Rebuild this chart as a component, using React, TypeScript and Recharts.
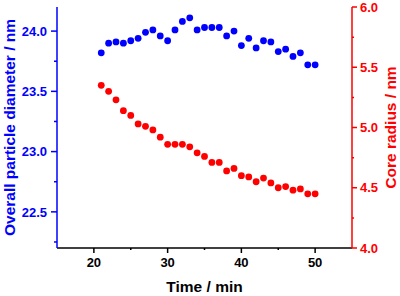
import { Scatter, ScatterChart, XAxis, YAxis } from "recharts";

const times = [
  21, 22, 23, 24, 25, 26, 27, 28, 29, 30, 31, 32, 33, 34, 35, 36, 37, 38, 39, 40,
  41, 42, 43, 44, 45, 46, 47, 48, 49, 50,
];
const diameter = [
  23.82, 23.9, 23.91, 23.9, 23.92, 23.94, 23.99, 24.01, 23.96, 23.92, 24.01, 24.08,
  24.11, 24.01, 24.03, 24.03, 24.03, 23.96, 24.0, 23.88, 23.94, 23.86, 23.92, 23.91,
  23.83, 23.85, 23.79, 23.82, 23.72, 23.72,
];
const radius = [
  5.35, 5.3, 5.23, 5.14, 5.1, 5.03, 5.01, 4.98, 4.92, 4.86, 4.86, 4.86, 4.84, 4.79,
  4.76, 4.71, 4.71, 4.64, 4.66, 4.6, 4.59, 4.55, 4.58, 4.54, 4.5, 4.51, 4.48, 4.49,
  4.45, 4.45,
];

const timeTicks = [20, 25, 30, 35, 40, 45, 50];
const diameterTicks = [22.25, 22.5, 22.75, 23, 23.25, 23.5, 23.75, 24];
const radiusTicks = [4, 4.25, 4.5, 4.75, 5, 5.25, 5.5, 5.75, 6];

const BLUE = "#0000FF";
const RED = "#FF0000";
const FONT = "'Liberation Sans', Arial, sans-serif";

const diameterData = times.map((time, i) => ({ time, diameter: diameter[i] }));
const radiusData = times.map((time, i) => ({ time, radius: radius[i] }));

const isMajor = (v: number, step: number) => Math.abs(v / step - Math.round(v / step)) < 1e-6;

// draws its own tick mark so minor ticks can be shorter and unlabelled
function AxisTick(props: any) {
  const { x, y, payload, side, color, step, digits } = props;
  const v = payload.value as number;
  const major = isMajor(v, step);
  const len = major ? 6 : 3;
  const label = v.toFixed(digits);
  const textStyle = { fontFamily: FONT, fontWeight: 700, fontSize: 13, fill: color };
  if (side === "bottom") {
    return (
      <g>
        <line x1={x} x2={x} y1={y} y2={y + len - 1} stroke={color} strokeWidth={1.5} />
        {major && (
          <text x={x} y={y + 19} textAnchor="middle" style={textStyle}>
            {label}
          </text>
        )}
      </g>
    );
  }
  if (side === "left") {
    return (
      <g>
        <line x1={x - len} x2={x} y1={y} y2={y} stroke={color} strokeWidth={1.5} />
        {major && (
          <text x={x - 10} y={y + 4.7} textAnchor="end" style={textStyle}>
            {label}
          </text>
        )}
      </g>
    );
  }
  return (
    <g>
      <line x1={x} x2={x + len - 1} y1={y} y2={y} stroke={color} strokeWidth={1.5} />
      {major && (
        <text x={x + 8} y={y + 4.7} textAnchor="start" style={textStyle}>
          {label}
        </text>
      )}
    </g>
  );
}

const titleStyle = { fontFamily: FONT, fontWeight: 700, fontSize: 15.5, textAnchor: "middle" as const };

export default function App() {
  return (
    <div style={{ position: "absolute", left: 0, top: 0, background: "#fff" }}>
      <ScatterChart width={400} height={296} margin={{ top: 7, right: 0, bottom: 0, left: 0 }}>
        <XAxis
          type="number"
          dataKey="time"
          domain={[15, 55]}
          ticks={timeTicks}
          interval={0}
          height={48}
          tickSize={0}
          tickMargin={0}
          tickLine={false}
          axisLine={{ stroke: "#000", strokeWidth: 1.5 }}
          tick={<AxisTick side="bottom" color="#000" step={10} digits={0} />}
          label={{ value: "Time / min", position: "insideBottom", offset: 4, style: { ...titleStyle, fill: "#000" } }}
        />
        <YAxis
          yAxisId="left"
          type="number"
          dataKey="diameter"
          domain={[22.2, 24.2]}
          allowDataOverflow
          ticks={diameterTicks}
          interval={0}
          width={57}
          tickSize={0}
          tickMargin={0}
          tickLine={false}
          axisLine={{ stroke: BLUE, strokeWidth: 1.5 }}
          tick={<AxisTick side="left" color={BLUE} step={0.5} digits={1} />}
          label={{
            value: "Overall particle diameter / nm",
            angle: -90,
            position: "insideLeft",
            offset: 9,
            style: { ...titleStyle, fill: BLUE },
          }}
        />
        <YAxis
          yAxisId="right"
          orientation="right"
          type="number"
          dataKey="radius"
          domain={[4, 6]}
          allowDataOverflow
          ticks={radiusTicks}
          interval={0}
          width={48}
          tickSize={0}
          tickMargin={0}
          tickLine={false}
          axisLine={{ stroke: RED, strokeWidth: 1.5 }}
          tick={<AxisTick side="right" color={RED} step={0.5} digits={1} />}
          label={{
            value: "Core radius / nm",
            angle: -90,
            position: "insideRight",
            offset: 10,
            style: { ...titleStyle, fill: RED },
          }}
        />
        <Scatter
          yAxisId="left"
          data={diameterData}
          isAnimationActive={false}
          shape={(p: any) => <circle cx={p.cx} cy={p.cy} r={3.4} fill={BLUE} />}
        />
        <Scatter
          yAxisId="right"
          data={radiusData}
          isAnimationActive={false}
          shape={(p: any) => <circle cx={p.cx} cy={p.cy} r={3.4} fill={RED} />}
        />
      </ScatterChart>
    </div>
  );
}
